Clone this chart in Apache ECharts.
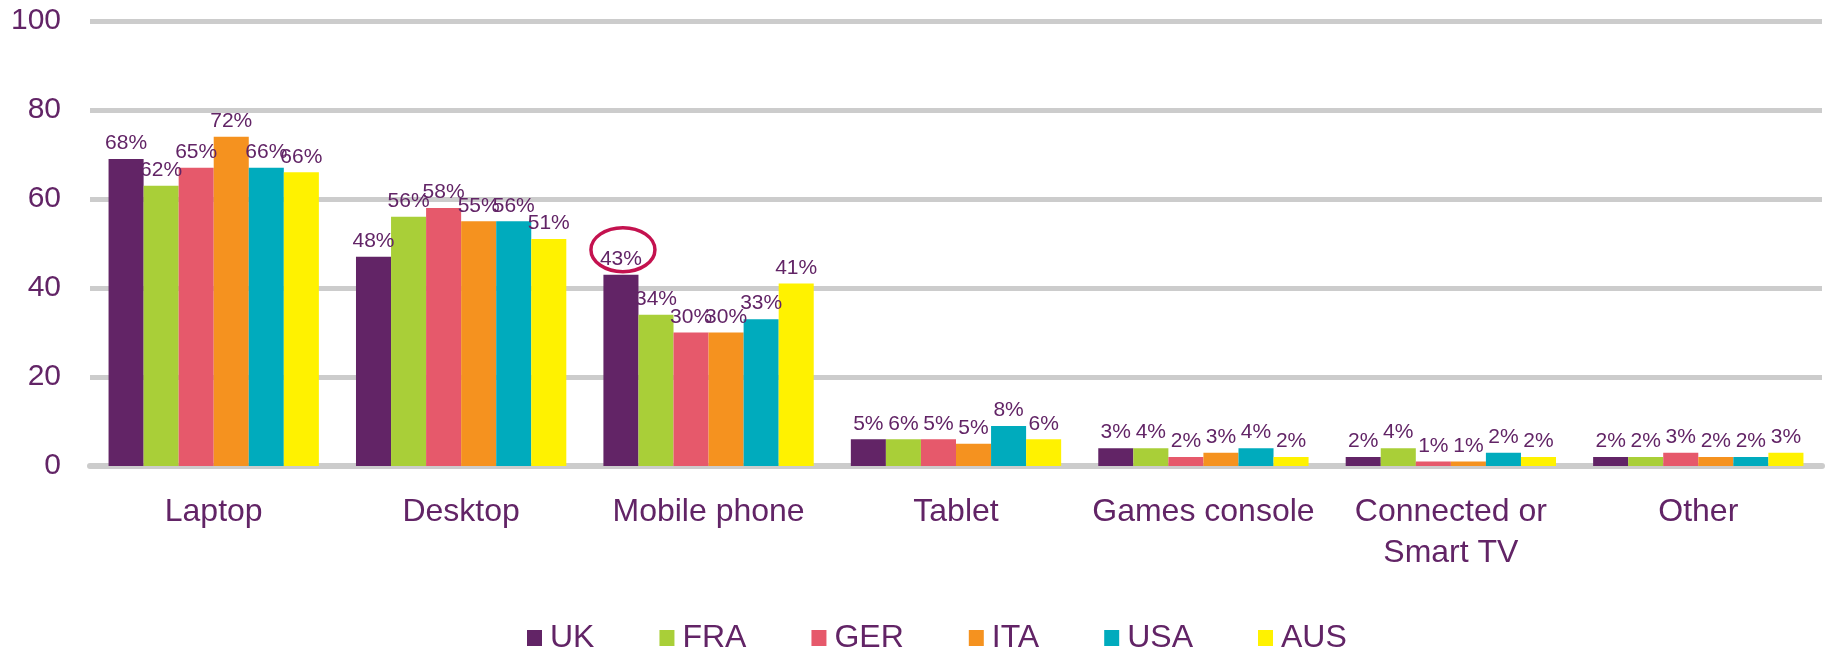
<!DOCTYPE html>
<html>
<head>
<meta charset="utf-8">
<script src="https://cdn.jsdelivr.net/npm/echarts@6/dist/echarts.min.js"></script>
<style>
  html, body { margin: 0; padding: 0; background: #fff; }
  #chart { width: 1825px; height: 649px; }
</style>
</head>
<body>
<div id="chart"></div>
<script>
// categories and countries
const categories = ['Laptop', 'Desktop', 'Mobile phone', 'Tablet', 'Games console', 'Connected or\nSmart TV', 'Other']
const countries = ['UK', 'FRA', 'GER', 'ITA', 'USA', 'AUS']

// bar heights as drawn (per country, one value per category)
const ukBars  = [69, 47, 43, 6, 4, 2, 2]
const fraBars = [63, 56, 34, 6, 4, 4, 2]
const gerBars = [67, 58, 30, 6, 2, 1, 3]
const itaBars = [74, 55, 30, 5, 3, 1, 2]
const usaBars = [67, 55, 33, 9, 4, 3, 2]
const ausBars = [66, 51, 41, 6, 2, 2, 3]

// printed data labels (%)
const ukLabels  = [68, 48, 43, 5, 3, 2, 2]
const fraLabels = [62, 56, 34, 6, 4, 4, 2]
const gerLabels = [65, 58, 30, 5, 2, 1, 3]
const itaLabels = [72, 55, 30, 5, 3, 1, 2]
const usaLabels = [66, 56, 33, 8, 4, 2, 2]
const ausLabels = [66, 51, 41, 6, 2, 2, 3]

const yTicks = [0, 20, 40, 60, 80, 100]

const bars = [ukBars, fraBars, gerBars, itaBars, usaBars, ausBars]
const labels = [ukLabels, fraLabels, gerLabels, itaLabels, usaLabels, ausLabels]
const colors = ['#622466', '#a9cf38', '#e6596b', '#f5921f', '#00abbd', '#fff200']
const purple = '#622466'
const font = '"Liberation Sans", Arial, sans-serif'

const chart = echarts.init(document.getElementById('chart'))

const series = countries.map((name, i) => ({
  name: name,
  type: 'bar',
  data: bars[i],
  barGap: '0%',
  barCategoryGap: '15%',
  itemStyle: { color: colors[i] },
  label: {
    show: true,
    position: 'top',
    distance: 5,
    color: purple,
    fontSize: 21,
    fontFamily: font,
    formatter: p => labels[p.seriesIndex][p.dataIndex] + '%'
  }
}))

chart.setOption({
  animation: false,
  color: colors,
  grid: { left: 90, right: 3, top: 21, bottom: 183 },
  legend: {
    data: countries,
    left: 522,
    top: 617,
    itemWidth: 15,
    itemHeight: 16,
    itemGap: 65,
    icon: 'rect',
    textStyle: { color: purple, fontSize: 32, fontFamily: font, padding: [0, 0, 0, 3] }
  },
  xAxis: {
    type: 'category',
    data: categories,
    axisLine: { lineStyle: { color: '#cccccc', width: 6 } },
    axisTick: { show: false },
    axisLabel: { color: purple, fontSize: 32, fontFamily: font, margin: 26, lineHeight: 41, interval: 0 }
  },
  yAxis: {
    type: 'value',
    min: yTicks[0],
    max: yTicks[yTicks.length - 1],
    interval: 20,
    axisLine: { show: false },
    axisTick: { show: false },
    axisLabel: { color: purple, fontSize: 30, fontFamily: font, margin: 29 },
    splitLine: { lineStyle: { color: '#cccccc', width: 5 } }
  },
  series: series
})

// red ellipse around the UK mobile phone label
const layout = chart.getModel().getSeriesByIndex(0).getData().getItemLayout(2)
const barTop = Math.min(layout.y, layout.y + layout.height)
chart.setOption({
  graphic: [{
    type: 'ellipse',
    shape: { cx: layout.x + layout.width / 2 + 2, cy: barTop - 25, rx: 32, ry: 22 },
    style: { fill: 'none', stroke: '#c4124f', lineWidth: 3.5 },
    z: 100
  }]
})
</script>
</body>
</html>
